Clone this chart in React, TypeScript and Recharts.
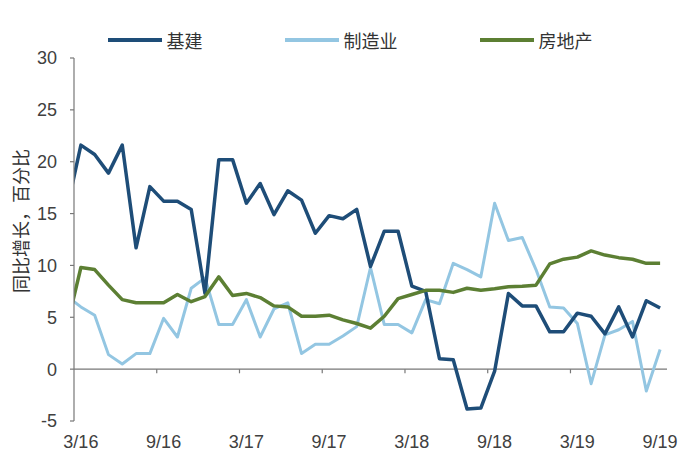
import React from 'react';
import { LineChart, Line, XAxis, YAxis, ReferenceLine, Legend } from 'recharts';

// Months (index 0 = 2/16, lies just left of the plot and is clipped)
const months = [
  '2/16', '3/16', '4/16', '5/16', '6/16', '7/16', '8/16', '9/16', '10/16', '11/16', '12/16',
  '1/17', '2/17', '3/17', '4/17', '5/17', '6/17', '7/17', '8/17', '9/17', '10/17', '11/17', '12/17',
  '1/18', '2/18', '3/18', '4/18', '5/18', '6/18', '7/18', '8/18', '9/18', '10/18', '11/18', '12/18',
  '1/19', '2/19', '3/19', '4/19', '5/19', '6/19', '7/19', '8/19', '9/19',
];

const tickLabels = ['3/16', '9/16', '3/17', '9/17', '3/18', '9/18', '3/19', '9/19'];
const tickMarkPositions = [6.5, 12.5, 18.5, 24.5, 30.5, 36.5];
const yTicks = [-5, 0, 5, 10, 15, 20, 25, 30];

const infra = [
  15.5, 21.6, 20.7, 18.9, 21.6, 11.7, 17.6, 16.2, 16.2, 15.4, 7.3,
  20.2, 20.2, 16.0, 17.9, 14.9, 17.2, 16.3, 13.1, 14.8, 14.5, 15.4, 9.9,
  13.3, 13.3, 8.0, 7.5, 1.0, 0.9, -3.85, -3.75, -0.2, 7.3, 6.1, 6.1,
  3.6, 3.6, 5.4, 5.1, 3.4, 6.0, 3.1, 6.6, 5.9,
];
const manufacturing = [
  7.0, 6.0, 5.2, 1.4, 0.5, 1.5, 1.5, 4.9, 3.1, 7.8, 8.8,
  4.3, 4.3, 6.7, 3.1, 5.8, 6.4, 1.5, 2.4, 2.4, 3.2, 4.1, 9.8,
  4.3, 4.3, 3.5, 6.7, 6.3, 10.2, 9.6, 8.9, 16.0, 12.4, 12.7, 9.6,
  6.0, 5.9, 4.4, -1.4, 3.3, 3.8, 4.6, -2.1, 1.9,
];
const realEstate = [
  4.2, 9.8, 9.6, 8.1, 6.7, 6.4, 6.4, 6.4, 7.2, 6.5, 7.0,
  8.9, 7.1, 7.3, 6.9, 6.1, 6.0, 5.1, 5.1, 5.2, 4.75, 4.4, 3.95,
  5.1, 6.8, 7.2, 7.6, 7.6, 7.4, 7.8, 7.6, 7.75, 7.95, 8.0, 8.1,
  10.15, 10.6, 10.8, 11.4, 11.0, 10.75, 10.6, 10.2, 10.2,
];

const series = [
  { key: 'infra', name: '基建', color: '#1E4D78', width: 3.5 },
  { key: 'manufacturing', name: '制造业', color: '#93C6E2', width: 3 },
  { key: 'realEstate', name: '房地产', color: '#5C7F33', width: 3.5 },
];
const drawOrder = ['manufacturing', 'infra', 'realEstate'];

const data = months.map((m, i) => ({
  i,
  month: m,
  infra: infra[i],
  manufacturing: manufacturing[i],
  realEstate: realEstate[i],
}));

const tickIndex = tickLabels.map((l) => months.indexOf(l));

const FONT = '"Liberation Sans", Arial, sans-serif';
const CJK = '"Noto Sans CJK SC", "Liberation Sans", sans-serif';

const LegendContent = () => (
  <div
    style={{
      display: 'flex',
      justifyContent: 'center',
      alignItems: 'center',
      gap: 82,
      fontFamily: CJK,
      fontSize: 18,
      color: '#333',
      lineHeight: '24px',
    }}
  >
    {series.map((s) => (
      <div key={s.key} style={{ display: 'flex', alignItems: 'center' }}>
        <span
          style={{
            display: 'inline-block',
            width: 54,
            height: s.width + 0.5,
            background: s.color,
            marginRight: 5,
          }}
        />
        <span>{s.name}</span>
      </div>
    ))}
  </div>
);

export default function App() {
  return (
    <div style={{ position: 'absolute', left: 0, top: 0, width: 700, height: 470, background: '#fff' }}>
      <LineChart
        width={700}
        height={470}
        data={data}
        margin={{ top: 58, right: 33, left: 0, bottom: 19 }}
      >
        <XAxis
          dataKey="i"
          type="number"
          domain={[0.5, 43.5]}
          allowDataOverflow
          ticks={tickIndex}
          tickFormatter={(v) => months[v]}
          axisLine={false}
          tickLine={false}
          height={30}
          tickSize={0}
          tickMargin={14}
          tick={{ fontSize: 18, fill: '#404040', fontFamily: FONT }}
          interval={0}
        />
        <YAxis
          type="number"
          domain={[-5, 30]}
          ticks={yTicks}
          width={74}
          allowDataOverflow
          axisLine={{ stroke: '#777', strokeWidth: 1.2 }}
          tickLine={{ stroke: '#777', strokeWidth: 1.2 }}
          tickSize={4}
          tickMargin={13}
          tick={{ fontSize: 18, fill: '#404040', fontFamily: FONT }}
          interval={0}
          label={{
            content: () => (
              <text
                x={20}
                y={221}
                transform="rotate(-90 20 221)"
                textAnchor="middle"
                dominantBaseline="central"
                fontSize={18}
                fill="#333"
                fontFamily={CJK}
              >
                同比增长，百分比
              </text>
            ),
          }}
        />
        <ReferenceLine y={0} stroke="#777" strokeWidth={1.2} ifOverflow="extendDomain" />
        {tickMarkPositions.map((p) => (
          <ReferenceLine
            key={p}
            segment={[{ x: p, y: 0 }, { x: p, y: -0.4 }]}
            stroke="#777"
            strokeWidth={1.2}
          />
        ))}
        {drawOrder.map((k) => {
          const s = series.find((x) => x.key === k)!;
          return (
            <Line
              key={s.key}
              dataKey={s.key}
              name={s.name}
              type="linear"
              stroke={s.color}
              strokeWidth={s.width}
              dot={false}
              activeDot={false}
              isAnimationActive={false}
              strokeLinejoin="round"
            />
          );
        })}
        <Legend
          verticalAlign="middle"
          align="center"
          layout="horizontal"
          content={<LegendContent />}
          wrapperStyle={{ top: 28, left: 0, width: 700, height: 24 }}
        />
      </LineChart>
    </div>
  );
}
